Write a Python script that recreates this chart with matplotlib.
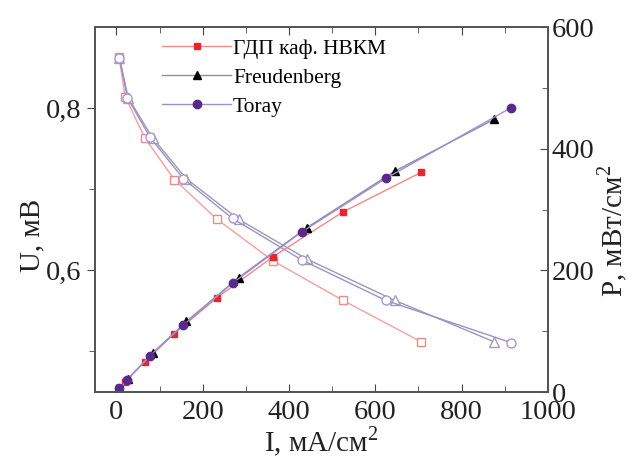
import matplotlib
matplotlib.use("Agg")
import matplotlib.pyplot as plt

plt.rcParams['font.family'] = ['Liberation Serif', 'DejaVu Serif']
plt.rcParams['mathtext.fontset'] = 'custom'
plt.rcParams['mathtext.rm'] = 'Liberation Serif'

# current density, mA/cm2
i_gdp = [6, 20, 66, 134, 233, 362, 525, 706]
i_freud = [7, 27, 84, 162, 283, 441, 645, 875]
i_toray = [7, 25, 78, 155, 269, 429, 624, 914]

# voltage (open markers, left axis)
u_gdp = [0.863, 0.814, 0.763, 0.712, 0.663, 0.612, 0.563, 0.512]
u_freud = [0.862, 0.813, 0.763, 0.713, 0.663, 0.614, 0.563, 0.512]
u_toray = [0.862, 0.813, 0.764, 0.713, 0.664, 0.613, 0.563, 0.511]

# power density (filled markers, right axis)
p_gdp = [5, 17, 50, 96, 155, 222, 296, 361]
p_freud = [6, 22, 64, 116, 188, 270, 363, 448]
p_toray = [6, 20, 60, 110, 179, 263, 351, 467]

labels = ['ГДП каф. НВКМ', 'Freudenberg', 'Toray']

fig = plt.figure(figsize=(6.37, 4.62), dpi=100)
ax = fig.add_axes([0.149, 0.1515, 0.711, 0.79])
ax2 = ax.twinx()

# voltage curves
ax.plot(i_gdp, u_gdp, color='#f2a0a0', lw=1, marker='s', ms=5.5,
        mfc='white', mec='#f08a8a', mew=1)
ax.plot(i_freud, u_freud, color='#9a9ab0', lw=1, marker='^', ms=6.5,
        mfc='white', mec='#a0a0b0', mew=1)
ax.plot(i_toray, u_toray, color='#9d8fd0', lw=1, marker='o', ms=6.5,
        mfc='white', mec='#a898d0', mew=1)

# power curves
h1, = ax2.plot(i_gdp, p_gdp, color='#f08a8a', lw=1, marker='s', ms=5,
               mfc='#e8252a', mec='#e8252a', label=labels[0])
h2, = ax2.plot(i_freud, p_freud, color='#8c8ca8', lw=1, marker='^', ms=6,
               mfc='black', mec='black', label=labels[1])
h3, = ax2.plot(i_toray, p_toray, color='#9d8fd0', lw=1, marker='o', ms=6,
               mfc='#5a2a8a', mec='#5a2a8a', label=labels[2])

ax.set_xlim(-50, 1000)
ax.set_ylim(0.45, 0.9)
ax2.set_ylim(0, 600)

ax.set_xticks([0, 200, 400, 600, 800, 1000])
ax.set_xticks([100, 300, 500, 700, 900], minor=True)
ax.set_yticks([0.6, 0.8])
ax.set_yticks([0.5, 0.7], minor=True)
ax.set_yticklabels(['0,6', '0,8'])
ax2.set_yticks([0, 200, 400, 600])
ax2.set_yticks([100, 300, 500], minor=True)

ax.tick_params(axis='x', which='both', direction='in', top=True,
               labelsize=20.5, pad=6, colors='#444', labelcolor='#222')
ax.tick_params(axis='x', which='major', length=6)
ax.tick_params(axis='x', which='minor', length=4)
ax.tick_params(axis='y', which='both', direction='out', labelsize=20.5,
               colors='#444', labelcolor='#222')
ax.tick_params(axis='y', which='major', length=6)
ax.tick_params(axis='y', which='minor', length=4)
ax2.tick_params(axis='y', which='both', direction='in', labelsize=20.5,
                colors='#444', labelcolor='#222', pad=3)
ax2.tick_params(axis='y', which='major', length=6)
ax2.tick_params(axis='y', which='minor', length=4)

for a in (ax, ax2):
    for s in a.spines.values():
        s.set_color('#555')
        s.set_linewidth(1.3)

ax.set_xlabel('I, мА/см$^{2}$', fontsize=21, color='#222', labelpad=0)
ax.set_ylabel('U, мВ', fontsize=21, color='#222')
ax.yaxis.set_label_coords(-0.11, 0.43)
ax2.set_ylabel('P, мВт/см$^{2}$', fontsize=21, color='#222')
ax2.yaxis.set_label_coords(1.105, 0.44)

ax2.legend(handles=[h1, h2, h3], loc='upper left', bbox_to_anchor=(0.115, 1.01),
           frameon=False, fontsize=15.5, handlelength=3.2, handletextpad=0.1,
           labelspacing=0.42, borderaxespad=0.3)

fig.savefig('out.png', dpi=100)
